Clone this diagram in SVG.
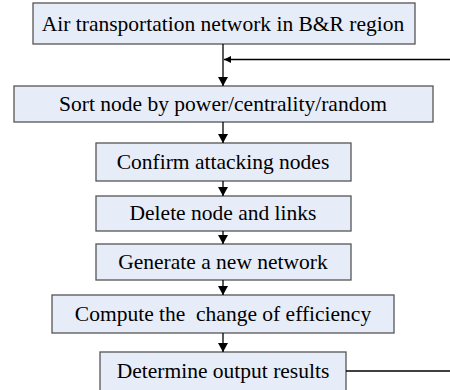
<svg xmlns="http://www.w3.org/2000/svg" width="450" height="390" viewBox="0 0 450 390">
<defs>
<marker id="ah" markerWidth="9" markerHeight="10" refX="9" refY="5" orient="auto" markerUnits="userSpaceOnUse">
<path d="M0,0 L9,5 L0,10 Z" fill="#000"/>
</marker>
<marker id="ahs" markerWidth="7" markerHeight="7" refX="7" refY="3.5" orient="auto" markerUnits="userSpaceOnUse">
<path d="M0,0 L7,3.5 L0,7 Z" fill="#000"/>
</marker>
<style>
.box{fill:#e7edf8;stroke:#555;stroke-width:1.3}
.t{font-family:"Liberation Serif","Times New Roman",serif;font-size:21.5px;fill:#000;text-anchor:middle;white-space:pre}
.c{stroke:#000;stroke-width:1.3;fill:none}
</style>
</defs>
<rect width="450" height="390" fill="#fff"/>
<g id="n1"><rect class="box" x="33" y="3" width="382" height="41"/><text class="t" x="223" y="31">Air transportation network in B&amp;R region</text></g>
<g id="n2"><rect class="box" x="14" y="86" width="419" height="36"/><text class="t" x="223" y="111">Sort node by power/centrality/random</text></g>
<g id="n3"><rect class="box" x="96" y="143" width="255" height="38"/><text class="t" x="223" y="169">Confirm attacking nodes</text></g>
<g id="n4"><rect class="box" x="96" y="196" width="255" height="35"/><text class="t" x="223" y="220">Delete node and links</text></g>
<g id="n5"><rect class="box" x="96" y="244" width="255" height="36"/><text class="t" x="223" y="269">Generate a new network</text></g>
<g id="n6"><rect class="box" x="52" y="295" width="342" height="38"/><text class="t" x="223" y="321" xml:space="preserve">Compute the  change of efficiency</text></g>
<g id="n7"><rect class="box" x="100" y="352" width="246" height="42"/><text class="t" x="223" y="378">Determine output results</text></g>
<g id="connectors">
<line class="c" x1="223" y1="44" x2="223" y2="86" marker-end="url(#ah)"/>
<line class="c" x1="450" y1="59.5" x2="224" y2="59.5" marker-end="url(#ahs)"/>
<line class="c" x1="223" y1="122" x2="223" y2="143" marker-end="url(#ah)"/>
<line class="c" x1="223" y1="181" x2="223" y2="196" marker-end="url(#ah)"/>
<line class="c" x1="223" y1="231" x2="223" y2="244" marker-end="url(#ah)"/>
<line class="c" x1="223" y1="280" x2="223" y2="295" marker-end="url(#ah)"/>
<line class="c" x1="223" y1="333" x2="223" y2="352" marker-end="url(#ah)"/>
<line class="c" x1="346" y1="371" x2="450" y2="371"/>
</g>
</svg>
